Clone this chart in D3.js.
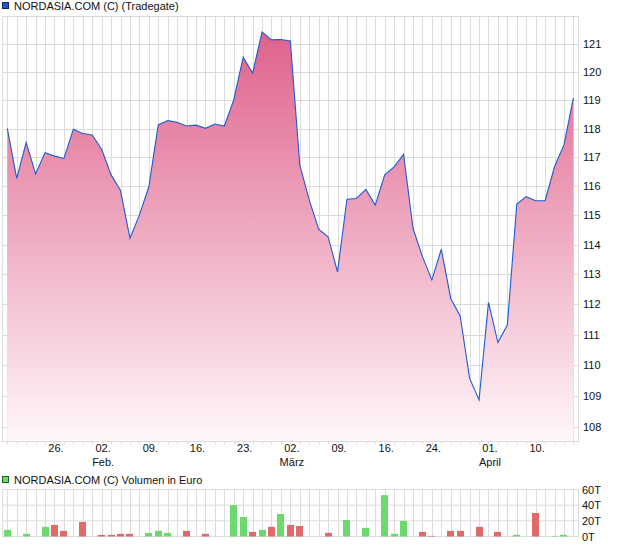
<!DOCTYPE html>
<html><head><meta charset="utf-8">
<script src="https://cdn.jsdelivr.net/npm/d3@7/dist/d3.min.js"></script>
<style>
body{margin:0;background:#fff}
svg{display:block}
text{font-family:"Liberation Sans",Arial,sans-serif}
</style>
</head><body>
<svg id="c" width="620" height="546"></svg>
<script>
// ---- data ----
const dates = [
 "2015-01-19","2015-01-20","2015-01-21","2015-01-22","2015-01-23",
 "2015-01-26","2015-01-27","2015-01-28","2015-01-29","2015-01-30",
 "2015-02-02","2015-02-03","2015-02-04","2015-02-05","2015-02-06",
 "2015-02-09","2015-02-10","2015-02-11","2015-02-12","2015-02-13",
 "2015-02-16","2015-02-17","2015-02-18","2015-02-19","2015-02-20",
 "2015-02-23","2015-02-24","2015-02-25","2015-02-26","2015-02-27",
 "2015-03-02","2015-03-03","2015-03-04","2015-03-05","2015-03-06",
 "2015-03-09","2015-03-10","2015-03-11","2015-03-12","2015-03-13",
 "2015-03-16","2015-03-17","2015-03-18","2015-03-19","2015-03-20",
 "2015-03-24","2015-03-25","2015-03-26","2015-03-27",
 "2015-03-30","2015-03-31","2015-04-01","2015-04-02",
 "2015-04-07","2015-04-08","2015-04-09","2015-04-10",
 "2015-04-13","2015-04-14","2015-04-15","2015-04-16"
];
const closes = [
 118.01,116.27,117.51,116.42,117.16,
 117.04,116.96,117.98,117.83,117.78,
 117.28,116.39,115.85,114.22,115.01,
 115.98,118.13,118.28,118.22,118.09,
 118.12,118.01,118.16,118.09,119.01,
 120.53,119.96,121.43,121.15,121.16,
 121.11,116.73,115.53,114.53,114.27,
 113.09,115.55,115.58,115.89,115.35,
 116.39,116.67,117.10,114.56,113.60,
 112.82,113.85,112.20,111.62,
 109.57,108.87,112.07,110.74,
 111.32,115.39,115.64,115.50,
 115.50,116.67,117.43,119.08
];
const volumes = [
 8400,0,3400,0,12300,
 14800,7200,0,18600,0,
 2100,2100,3400,3400,0,
 4600,7200,4600,0,7200,
 0,3400,0,0,40100,
 24900,5900,8400,12300,28700,
 14800,13500,0,0,4600,
 0,21100,0,11000,0,
 52800,3400,19900,0,5900,
 800,0,7200,7200,
 0,12300,0,5900,
 0,2100,0,30000,
 0,800,2100,0
];
const priceTicks = [108,109,110,111,112,113,114,115,116,117,118,119,120,121];
const volumeTicks = [0,20000,40000,60000];
const volumeTickLabels = ["0T","20T","40T","60T"];
const dayTickDates = ["2015-01-26","2015-02-02","2015-02-09","2015-02-16","2015-02-23","2015-03-02","2015-03-09","2015-03-16","2015-03-24","2015-04-01","2015-04-10"];
const dayTickLabels = ["26.","02.","09.","16.","23.","02.","09.","16.","24.","01.","10."];
const monthTickDates = ["2015-02-02","2015-03-02","2015-04-01"];
const monthTickLabels = ["Feb.","März","April"];
const titlePrice = "NORDASIA.COM (C) (Tradegate)";
const titleVolume = "NORDASIA.COM (C) Volumen in Euro";

// ---- layout ----
const svg = d3.select("#c");
const P = {l:2.5, r:578.5, t:16.5, b:441.5};
const V = {l:2.5, r:578.5, t:489.5, b:536.5};
const gridCol = "#dcdcdc";
const snap = v => Math.round(v) + 0.5;

const x = d3.scalePoint().domain(dates).range([7.3, 573.4]);
const y = d3.scaleLog().domain([108,121]).range([427,44]);
const vy = d3.scaleLinear().domain([0,60000]).range([V.b, V.t]);

// gradient
const defs = svg.append("defs");
const grad = defs.append("linearGradient").attr("id","fillg")
  .attr("gradientUnits","userSpaceOnUse").attr("x1",0).attr("x2",0).attr("y1",P.t).attr("y2",P.b);
grad.append("stop").attr("offset",0).attr("stop-color","#de5c87");
grad.append("stop").attr("offset",1).attr("stop-color","#fff7fa");

// ---- price panel ----
const gP = svg.append("g");
gP.selectAll("line.vg").data(dates).join("line")
  .attr("x1",d=>snap(x(d))).attr("x2",d=>snap(x(d))).attr("y1",P.t).attr("y2",P.b)
  .attr("stroke",gridCol);
gP.selectAll("line.vt").data(dates).join("line")
  .attr("x1",d=>snap(x(d))).attr("x2",d=>snap(x(d))).attr("y1",P.b).attr("y2",P.b+3)
  .attr("stroke",gridCol);
gP.selectAll("line.hg").data(priceTicks).join("line")
  .attr("x1",P.l).attr("x2",P.r).attr("y1",d=>snap(y(d))).attr("y2",d=>snap(y(d)))
  .attr("stroke",gridCol);
gP.append("rect").attr("x",P.l).attr("y",P.t).attr("width",P.r-P.l).attr("height",P.b-P.t)
  .attr("fill","none").attr("stroke",gridCol);

const pts = dates.map((d,i)=>({d, v:closes[i]}));
gP.append("path").datum(pts)
  .attr("d", d3.area().x(p=>x(p.d)).y0(P.b-0.5).y1(p=>y(p.v)))
  .attr("fill","url(#fillg)");
gP.append("path").datum(pts)
  .attr("d", d3.line().x(p=>x(p.d)).y(p=>y(p.v)))
  .attr("fill","none").attr("stroke","#1d5bd3").attr("stroke-width",1.1);

gP.selectAll("text.yl").data(priceTicks).join("text")
  .attr("x",583).attr("y",d=>y(d)+4).attr("font-size",11).attr("fill","#111")
  .text(d=>d);

gP.selectAll("text.xl").data(dayTickDates).join("text")
  .attr("x",(d)=>x(d)+1.5).attr("y",452).attr("text-anchor","middle")
  .attr("font-size",11).attr("fill","#111")
  .style("font-family","'Liberation Sans Narrow','Arial Narrow','Liberation Sans',sans-serif")
  .text((d,i)=>dayTickLabels[i]);
gP.selectAll("text.ml").data(monthTickDates).join("text")
  .attr("x",(d)=>x(d)+1.5).attr("y",466).attr("text-anchor","middle")
  .attr("font-size",11).attr("fill","#111")
  .style("font-family","'Liberation Sans Narrow','Arial Narrow','Liberation Sans',sans-serif")
  .text((d,i)=>monthTickLabels[i]);

// legend
svg.append("rect").attr("x",2.5).attr("y",2.5).attr("width",6).attr("height",6)
  .attr("fill","#2456c9").attr("stroke","#102a66");
svg.append("text").attr("x",14).attr("y",10).attr("font-size",11).attr("fill","#111").text(titlePrice);

// ---- volume panel ----
const gV = svg.append("g");
gV.selectAll("line.vg").data(dates).join("line")
  .attr("x1",d=>snap(x(d))).attr("x2",d=>snap(x(d))).attr("y1",V.t).attr("y2",V.b)
  .attr("stroke",gridCol);
gV.selectAll("line.hg").data(volumeTicks).join("line")
  .attr("x1",V.l).attr("x2",V.r).attr("y1",d=>vy(d)).attr("y2",d=>vy(d))
  .attr("stroke",gridCol);
gV.append("rect").attr("x",V.l).attr("y",V.t).attr("width",V.r-V.l).attr("height",V.b-V.t)
  .attr("fill","none").attr("stroke",gridCol);

const bars = dates.map((d,i)=>({d, v:volumes[i], up: i===0 ? true : closes[i] >= closes[i-1]}))
  .filter(b=>b.v>0);
gV.selectAll("rect.bar").data(bars).join("rect")
  .attr("x",b=>Math.round(x(b.d)-3.5)).attr("width",7)
  .attr("y",b=>vy(b.v)).attr("height",b=>V.b-vy(b.v))
  .attr("fill",b=>b.up ? "#6bd96b" : "#de6a6a");

gV.selectAll("text.vl").data(volumeTicks).join("text")
  .attr("x",582).attr("y",d=>vy(d)+4).attr("font-size",11).attr("fill","#111")
  .text((d,i)=>volumeTickLabels[i]);

svg.append("rect").attr("x",2.5).attr("y",476.5).attr("width",6).attr("height",6)
  .attr("fill","#6bd96b").attr("stroke","#1f5f1f");
svg.append("text").attr("x",14).attr("y",484).attr("font-size",11).attr("fill","#111").text(titleVolume);
</script>
</body></html>
